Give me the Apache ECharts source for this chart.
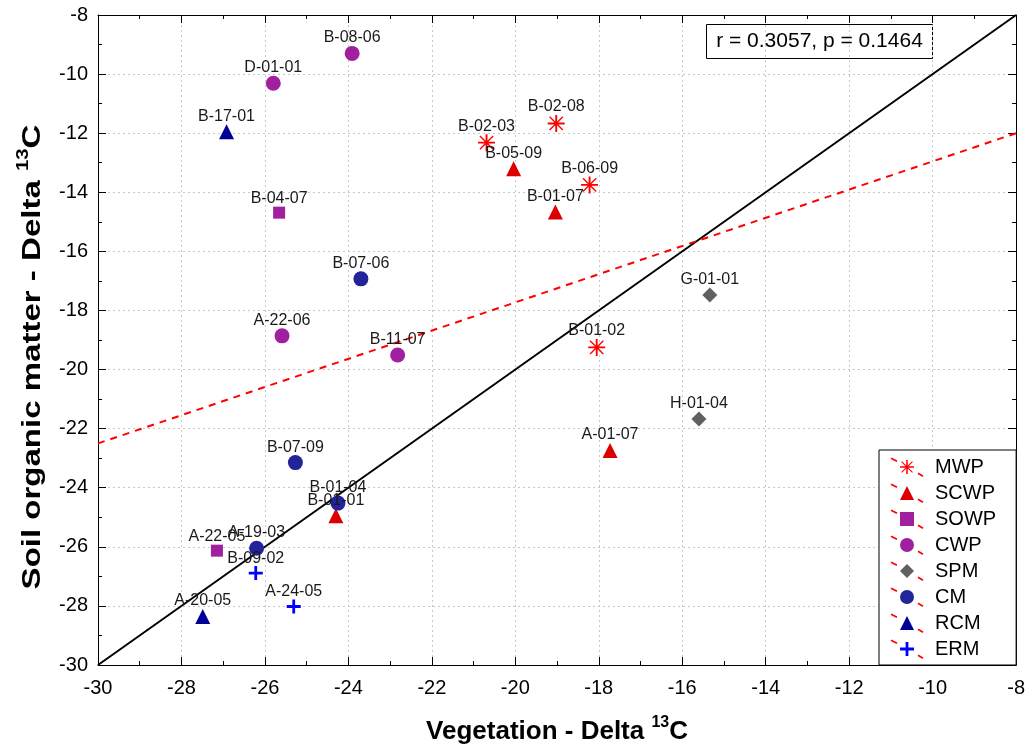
<!DOCTYPE html>
<html>
<head>
<meta charset="utf-8">
<script src="https://cdn.jsdelivr.net/npm/echarts@6/dist/echarts.min.js"></script>
<style>
html,body{margin:0;padding:0;background:#fff;}
#chart{width:1028px;height:753px;}
</style>
</head>
<body>
<div id="chart"></div>
<script>
// ---- data ----
const categories = ['MWP', 'SCWP', 'SOWP', 'CWP', 'SPM', 'CM', 'RCM', 'ERM'];
const mwp  = [[-19.02, -11.67, 'B-02-08'], [-20.69, -12.32, 'B-02-03'], [-18.22, -13.75, 'B-06-09'], [-18.05, -19.25, 'B-01-02']];
const scwp = [[-20.04, -13.20, 'B-05-09'], [-19.04, -14.67, 'B-01-07'], [-17.73, -22.74, 'A-01-07'], [-24.30, -24.95, 'B-01-01']];
const sowp = [[-25.66, -14.69, 'B-04-07'], [-27.15, -26.13, 'A-22-05']];
const cwp  = [[-23.91, -9.30, 'B-08-06'], [-25.80, -10.31, 'D-01-01'], [-25.59, -18.86, 'A-22-06'], [-22.82, -19.51, 'B-11-07']];
const spm  = [[-15.34, -17.48, 'G-01-01'], [-15.60, -21.67, 'H-01-04']];
const cm   = [[-23.70, -16.93, 'B-07-06'], [-25.27, -23.15, 'B-07-09'], [-24.25, -24.52, 'B-01-04'], [-26.20, -26.05, 'A-19-03']];
const rcm  = [[-26.92, -11.95, 'B-17-01'], [-27.49, -28.36, 'A-20-05']];
const erm  = [[-26.22, -26.89, 'B-09-02'], [-25.31, -28.02, 'A-24-05']];
const identityLine = [[-30, -30], [-8, -8]];
const regressionLine = [[-30, -22.5], [-8, -12.0]];
const xTicks = { min: -30, max: -8, step: 2 };
const yTicks = { min: -30, max: -8, step: 2 };
const statsText = 'r = 0.3057, p = 0.1464';
const xTitle = ['Vegetation - Delta ', '13', 'C'];
const yTitle = ['Soil organic matter - Delta ', '13', 'C'];

// ---- styles ----
const ASTERISK = 'path://M9,1 L11,1 L11,19 L9,19 Z M1,9 L19,9 L19,11 L1,11 Z M2.5,3.5 L3.5,2.5 L17.5,16.5 L16.5,17.5 Z M16.5,2.5 L17.5,3.5 L3.5,17.5 L2.5,16.5 Z';
const PLUS = 'path://M8,0 L12,0 L12,8 L20,8 L20,12 L12,12 L12,20 L8,20 L8,12 L0,12 L0,8 L8,8 Z';
const seriesData = [mwp, scwp, sowp, cwp, spm, cm, rcm, erm];
const styles = [
  { symbol: ASTERISK, size: 17, color: '#ff0000' },
  { symbol: 'triangle', size: 15, color: '#dc0000' },
  { symbol: 'rect', size: 12, color: '#a020a0' },
  { symbol: 'circle', size: 15, color: '#a020a0' },
  { symbol: 'diamond', size: 15, color: '#606060' },
  { symbol: 'circle', size: 15, color: '#23239a' },
  { symbol: 'triangle', size: 15, color: '#000099' },
  { symbol: PLUS, size: 14, color: '#0000ff' }
];
const FONT = 'Arial, "Liberation Sans", sans-serif';

const scatterSeries = categories.map((name, i) => ({
  name: name,
  type: 'scatter',
  xAxisIndex: 0, yAxisIndex: 0,
  data: seriesData[i].map(d => ({ value: [d[0], d[1]], name: d[2] })),
  symbol: styles[i].symbol,
  symbolSize: styles[i].size,
  itemStyle: { color: styles[i].color, opacity: 1 },
  z: 5,
  label: {
    show: true,
    position: 'top',
    distance: 0,
    formatter: p => p.name,
    color: '#1a1a1a',
    fontFamily: FONT,
    fontSize: 16
  },
  emphasis: { disabled: true }
}));

const tickCommon = {
  axisLine: { show: true, lineStyle: { color: '#000', width: 1 } },
  axisTick: { show: true, inside: true, length: 8, lineStyle: { color: '#000' } },
  minorTick: { show: true, splitNumber: 2, length: 4, lineStyle: { color: '#000' } }
};

const titleRich = {
  b: { fontSize: 26, fontWeight: 'bold', fill: '#000', color: '#000', fontFamily: FONT, lineHeight: 30, verticalAlign: 'bottom' },
  sup: { fontSize: 16, fontWeight: 'bold', fill: '#000', color: '#000', fontFamily: FONT, lineHeight: 30, verticalAlign: 'top', padding: [0, 0, 8, 0] }
};
const richText = parts => '{b|' + parts[0] + '}{sup|' + parts[1] + '}{b|' + parts[2] + '}';

const legendRowsY = categories.map((c, k) => 466.7 + 26 * k);
const legendDashes = [];
legendRowsY.forEach(yc => {
  legendDashes.push({ type: 'line', z: 100, shape: { x1: 891, y1: yc - 8.5, x2: 897, y2: yc - 5.5 }, style: { stroke: '#ff0000', lineWidth: 1.6 } });
  legendDashes.push({ type: 'line', z: 100, shape: { x1: 918, y1: yc + 6.5, x2: 923, y2: yc + 9.5 }, style: { stroke: '#ff0000', lineWidth: 1.6 } });
});

const chart = echarts.init(document.getElementById('chart'), null, { renderer: 'canvas' });
chart.setOption({
  animation: false,
  backgroundColor: '#ffffff',
  textStyle: { fontFamily: FONT },
  grid: { left: 98, right: 11, top: 15, bottom: 88, containLabel: false },
  xAxis: [
    Object.assign({
      type: 'value', min: xTicks.min, max: xTicks.max, interval: xTicks.step, position: 'bottom',
      name: richText(xTitle),
      nameLocation: 'middle', nameGap: 50,
      nameTextStyle: { rich: titleRich },
      axisLabel: { color: '#000', fontSize: 20, fontFamily: FONT, margin: 13 },
      splitLine: { show: true, lineStyle: { color: '#c8c8c8', type: [2, 3], width: 1 } }
    }, tickCommon),
    Object.assign({
      type: 'value', min: xTicks.min, max: xTicks.max, interval: xTicks.step, position: 'top',
      axisLabel: { show: false }, splitLine: { show: false }
    }, tickCommon)
  ],
  yAxis: [
    Object.assign({
      type: 'value', min: yTicks.min, max: yTicks.max, interval: yTicks.step, position: 'left',
      axisLabel: { color: '#000', fontSize: 20, fontFamily: FONT, margin: 10 },
      splitLine: { show: true, lineStyle: { color: '#c8c8c8', type: [2, 3], width: 1 } }
    }, tickCommon),
    Object.assign({
      type: 'value', min: yTicks.min, max: yTicks.max, interval: yTicks.step, position: 'right',
      axisLabel: { show: false }, splitLine: { show: false }
    }, tickCommon)
  ],
  legend: {
    data: categories,
    orient: 'vertical',
    left: 879, top: 450,
    padding: [7, 20, 6, 21],
    itemWidth: 14, itemHeight: 14, itemGap: 6,
    backgroundColor: '#ffffff',
    borderColor: '#000', borderWidth: 1, borderRadius: 0,
    textStyle: { color: '#000', fontSize: 20, fontFamily: FONT, padding: [0, 0, 0, 16] },
    selectedMode: false
  },
  graphic: [
    {
      type: 'group', left: 706, top: 24, z: 50,
      children: [
        { type: 'rect', shape: { x: 0, y: 0, width: 226, height: 34 }, style: { fill: '#fff', stroke: '#000', lineWidth: 1 } },
        { type: 'text', x: 113, y: 17, style: { text: statsText, fill: '#000', font: '21px ' + FONT, textAlign: 'center', textVerticalAlign: 'middle' } }
      ]
    },
    {
      type: 'text', z: 50,
      x: 31, y: 357, rotation: Math.PI / 2, scaleX: 1.27,
      style: { text: richText(yTitle), rich: titleRich, fill: '#000', align: 'center', verticalAlign: 'middle' }
    }
  ].concat(legendDashes),
  series: [
    {
      name: 'identity', type: 'line', data: identityLine, symbol: 'none',
      lineStyle: { color: '#000', width: 2 }, z: 3, silent: true, emphasis: { disabled: true }
    },
    {
      name: 'regression', type: 'line', data: regressionLine, symbol: 'none',
      lineStyle: { color: '#ff0000', width: 2, type: [7, 6] }, z: 3, silent: true, emphasis: { disabled: true }
    }
  ].concat(scatterSeries)
});
</script>
</body>
</html>
